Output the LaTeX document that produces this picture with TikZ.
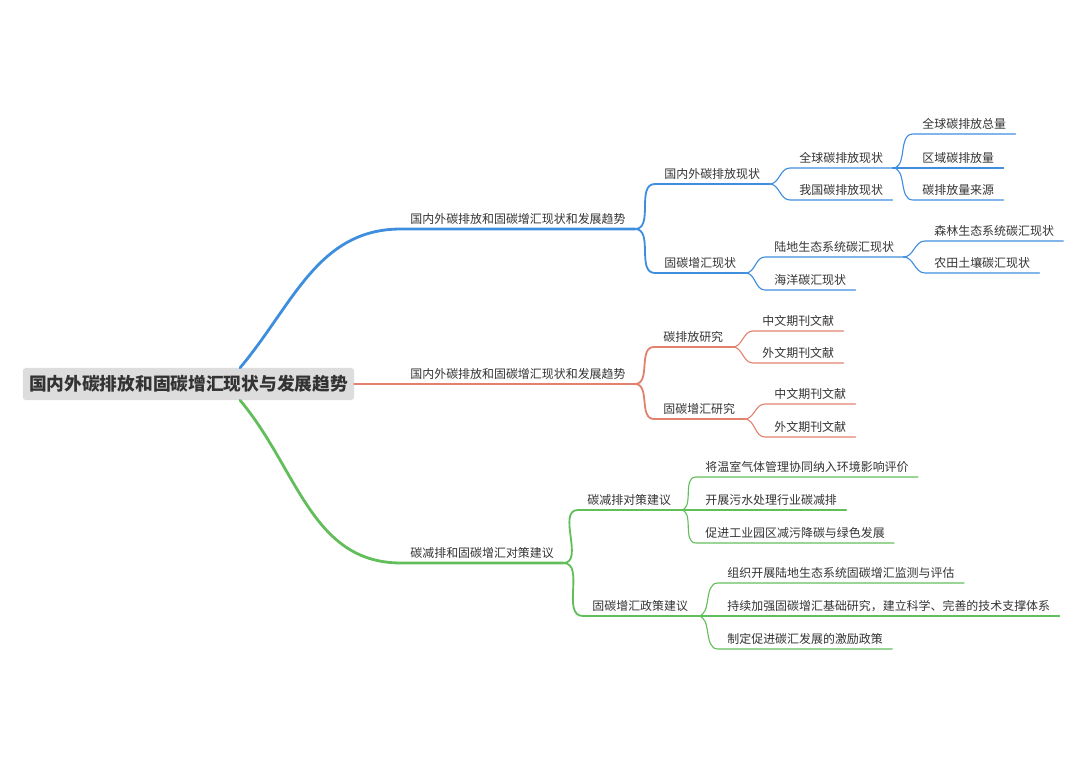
\documentclass[tikz,border=0pt]{standalone}
\usepackage{fontspec}
\setmainfont{Noto Sans CJK SC}
\usetikzlibrary{calc}
\definecolor{blueline}{HTML}{3F8EDE}
\definecolor{redline}{HTML}{E2826E}
\definecolor{greenline}{HTML}{62BE5A}
\definecolor{txtgray}{HTML}{333333}
\definecolor{rootfill}{HTML}{DDDDDD}

\begin{document}
\begin{tikzpicture}[
  x=0.025cm, y=-0.025cm,
  every node/.style={font=\fontsize{8.5}{10}\selectfont, text=txtgray},
  topic/.style={anchor=south west, inner xsep=6.5pt, inner ysep=3pt},
  lone/.style={line width=2pt, line cap=round},
  ltwo/.style={line width=1.3pt, line cap=round},
  lthree/.style={line width=0.8pt, line cap=round}
]
  \useasboundingbox (0,0) rectangle (1080,762);
  % central topic
  \node[fill=rootfill, rounded corners=2pt, minimum width=8.28cm, minimum height=0.8cm,
        font=\fontsize{12.6}{14}\selectfont\bfseries] (root) at (188.5,384)
        {国内外碳排放和固碳增汇现状与发展趋势};
  % first branch
  \node[topic] (b1) at (401,229) {国内外碳排放和固碳增汇现状和发展趋势};
  \node[topic] (c11) at (655,184) {国内外碳排放现状};
  \node[topic] (c12) at (655,273) {固碳增汇现状};
  \node[topic] (d111) at (790,168) {全球碳排放现状};
  \node[topic] (d112) at (790,200) {我国碳排放现状};
  \node[topic] (d121) at (765,257) {陆地生态系统碳汇现状};
  \node[topic] (d122) at (765,290) {海洋碳汇现状};
  \node[topic] (e111) at (913,134) {全球碳排放总量};
  \node[topic] (e112) at (913,168) {区域碳排放量};
  \node[topic] (e113) at (913,200) {碳排放量来源};
  \node[topic] (e121) at (925,241) {森林生态系统碳汇现状};
  \node[topic] (e122) at (925,273) {农田土壤碳汇现状};
  % second branch
  \node[topic] (b2) at (401,384) {国内外碳排放和固碳增汇现状和发展趋势};
  \node[topic] (c21) at (654,347) {碳排放研究};
  \node[topic] (c22) at (654,419) {固碳增汇研究};
  \node[topic] (d211) at (753,331) {中文期刊文献};
  \node[topic] (d212) at (753,363) {外文期刊文献};
  \node[topic] (d221) at (765,404) {中文期刊文献};
  \node[topic] (d222) at (765,437) {外文期刊文献};
  % third branch
  \node[topic] (b3) at (401,563) {碳减排和固碳增汇对策建议};
  \node[topic] (c31) at (578,510) {碳减排对策建议};
  \node[topic] (c32) at (583,616) {固碳增汇政策建议};
  \node[topic] (d311) at (696,477) {将温室气体管理协同纳入环境影响评价};
  \node[topic] (d312) at (696,510) {开展污水处理行业碳减排};
  \node[topic] (d313) at (696,543) {促进工业园区减污降碳与绿色发展};
  \node[topic] (d321) at (718,583) {组织开展陆地生态系统固碳增汇监测与评估};
  \node[topic] (d322) at (718,616) {持续加强固碳增汇基础研究，建立科学、完善的技术支撑体系};
  \node[topic] (d323) at (718,649) {制定促进碳汇发展的激励政策};

  % blue connectors
  \draw[blueline, lone] ([xshift=1.29cm]root.north) to[out=50,in=180] (b1.south west) -- (b1.south east);
  \foreach \c in {c11,c12}
    \draw[blueline, ltwo] (b1.south east) to[out=0,in=180] (\c.south west) -- (\c.south east);
  \foreach \c in {d111,d112}
    \draw[blueline, lthree] (c11.south east) to[out=0,in=180] (\c.south west) -- (\c.south east);
  \foreach \c in {d121,d122}
    \draw[blueline, lthree] (c12.south east) to[out=0,in=180] (\c.south west) -- (\c.south east);
  \foreach \c in {e111,e112,e113}
    \draw[blueline, lthree] (d111.south east) to[out=0,in=180] (\c.south west) -- (\c.south east);
  \foreach \c in {e121,e122}
    \draw[blueline, lthree] (d121.south east) to[out=0,in=180] (\c.south west) -- (\c.south east);

  % red connectors
  \draw[redline, lone] (root.east) -- (b2.south west) -- (b2.south east);
  \foreach \c in {c21,c22}
    \draw[redline, ltwo] (b2.south east) to[out=0,in=180] (\c.south west) -- (\c.south east);
  \foreach \c in {d211,d212}
    \draw[redline, lthree] (c21.south east) to[out=0,in=180] (\c.south west) -- (\c.south east);
  \foreach \c in {d221,d222}
    \draw[redline, lthree] (c22.south east) to[out=0,in=180] (\c.south west) -- (\c.south east);

  % green connectors
  \draw[greenline, lone] ([xshift=1.29cm]root.south) to[out=-50,in=180] (b3.south west) -- (b3.south east);
  \foreach \c in {c31,c32}
    \draw[greenline, ltwo] (b3.south east) to[out=0,in=180] (\c.south west) -- (\c.south east);
  \foreach \c in {d311,d312,d313}
    \draw[greenline, lthree] (c31.south east) to[out=0,in=180] (\c.south west) -- (\c.south east);
  \foreach \c in {d321,d322,d323}
    \draw[greenline, lthree] (c32.south east) to[out=0,in=180] (\c.south west) -- (\c.south east);
\end{tikzpicture}
\end{document}
